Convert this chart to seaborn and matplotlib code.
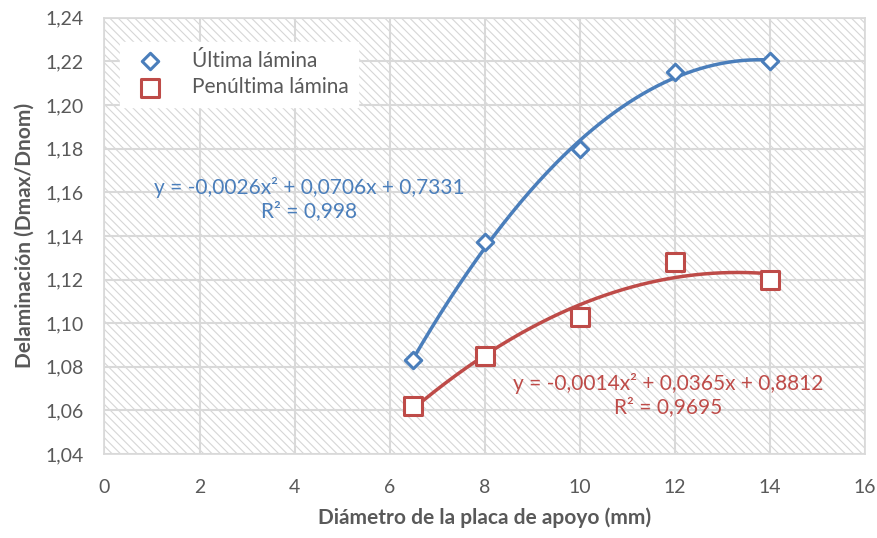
import numpy as np
import matplotlib
matplotlib.use("Agg")
import matplotlib.pyplot as plt
import seaborn as sns
from matplotlib.ticker import FuncFormatter

# data
diametro = [6.5, 8, 10, 12, 14]
ultima = [1.083, 1.137, 1.180, 1.215, 1.220]
penultima = [1.062, 1.085, 1.103, 1.128, 1.120]

eq_ultima = "y = -0,0026x² + 0,0706x + 0,7331\nR² = 0,998"
eq_penultima = "y = -0,0014x² + 0,0365x + 0,8812\nR² = 0,9695"

blue = "#4A7EBB"
red = "#BE4B48"
gray = "#595959"

sns.set_theme(style="white")
plt.rcParams['font.family'] = ['Lato', 'DejaVu Sans']
plt.rcParams['hatch.linewidth'] = 0.8

fig = plt.figure(figsize=(8.78, 5.38), dpi=100)
ax = fig.add_axes([0.119, 0.156, 0.866, 0.811])

# hatched plot area
ax.patch.set_facecolor("white")
ax.patch.set_hatch("\\\\\\\\")
ax.patch.set_edgecolor("#D6D6D6")
ax.patch.set_linewidth(0)

# trend lines (2nd order polynomial)
xs = np.linspace(min(diametro), max(diametro), 200)
for vals, col in [(ultima, blue), (penultima, red)]:
    coef = np.polyfit(diametro, vals, 2)
    ax.plot(xs, np.polyval(coef, xs), color=col, lw=2.5, zorder=3)

sns.scatterplot(x=diametro, y=ultima, marker="D", s=70, facecolor="white",
                edgecolor=blue, linewidth=2.2, ax=ax, zorder=4, label="Última lámina")
sns.scatterplot(x=diametro, y=penultima, marker="s", s=150, facecolor="white",
                edgecolor=red, linewidth=2.2, ax=ax, zorder=4, label="Penúltima lámina")

ax.set_xlim(0, 16)
ax.set_ylim(1.04, 1.24)
ax.set_xticks(np.arange(0, 17, 2))
ax.set_yticks(np.arange(1.04, 1.2401, 0.02))
ax.yaxis.set_major_formatter(FuncFormatter(lambda v, p: f"{v:.2f}".replace(".", ",")))
ax.grid(True, color="#D9D9D9", lw=1.5)
ax.set_axisbelow(True)
for s in ax.spines.values():
    s.set_color("#D9D9D9")
ax.tick_params(axis="x", length=0, labelsize=14, colors=gray, pad=18)
ax.tick_params(axis="y", length=0, labelsize=14, colors=gray, pad=15)

ax.set_xlabel("Diámetro de la placa de apoyo (mm)", fontsize=15, fontweight="bold", color=gray, labelpad=8)
ax.set_ylabel("Delaminación (Dmax/Dnom)", fontsize=15, fontweight="bold", color=gray, labelpad=8)

ax.text(4.3, 1.157, eq_ultima, color=blue, fontsize=15, ha="center", va="center", zorder=5)
ax.text(11.86, 1.067, eq_penultima, color=red, fontsize=15, ha="center", va="center", zorder=5)

leg = ax.legend(loc="upper left", bbox_to_anchor=(0.015, 0.955), fontsize=15,
                frameon=True, fancybox=False, framealpha=1, edgecolor="white",
                handletextpad=1.0, borderpad=0.45, labelspacing=0.3, borderaxespad=0.2)
for t in leg.get_texts():
    t.set_color(gray)

fig.savefig("out.png", dpi=100)
